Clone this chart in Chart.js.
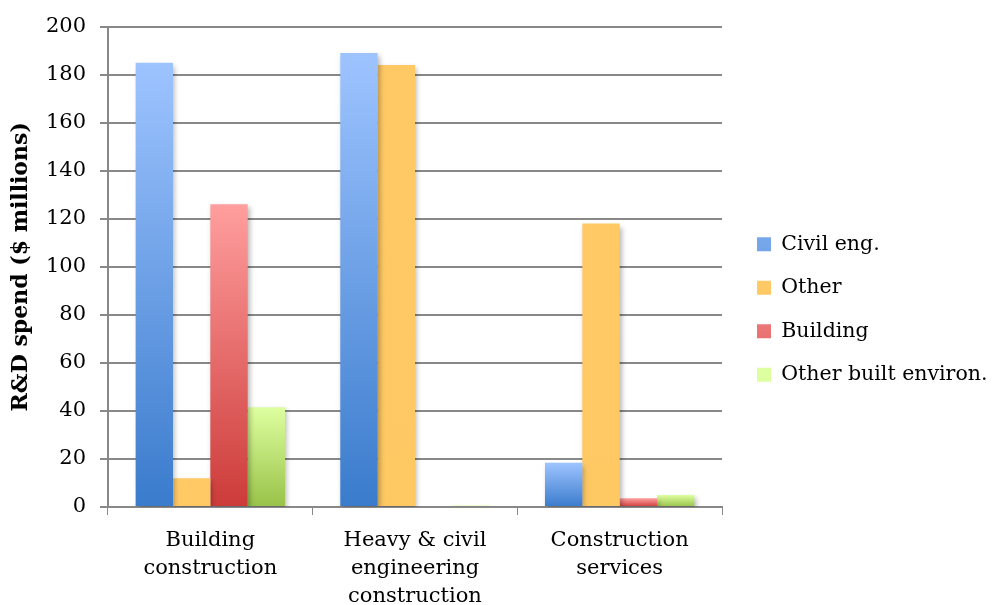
<!DOCTYPE html>
<html>
<head>
<meta charset="utf-8">
<script src="https://cdn.jsdelivr.net/npm/chart.js@4/dist/chart.umd.min.js"></script>
<style>
  html, body { margin: 0; padding: 0; background: #fff; }
  #wrap { width: 992px; height: 605px; }
</style>
</head>
<body>
<div id="wrap"><canvas id="myChart"></canvas></div>
<script>
const categories = [
  ["Building", "construction"],
  ["Heavy & civil", "engineering", "construction"],
  ["Construction", "services"],
];
const civilEng = [185, 189, 18.4];
const other = [12, 184, 118];
const building = [126, 0, 3.6];
const otherBuilt = [41.5, 0.6, 5];
const yTicks = [0, 20, 40, 60, 80, 100, 120, 140, 160, 180, 200];

const FONT = "'DejaVu Serif', serif";

// each bar gets its own light-top / dark-bottom gradient
function barFill(top, bottom, mid) {
  return (c) => {
    if (c.type !== "data") return mid;
    const chart = c.chart;
    const y = chart.scales.y;
    if (!y || !chart.chartArea) return mid;
    const y0 = y.getPixelForValue(c.parsed.y);
    const y1 = y.getPixelForValue(0);
    if (!isFinite(y0) || !isFinite(y1) || Math.abs(y1 - y0) < 1) return bottom;
    const g = chart.ctx.createLinearGradient(0, y0, 0, y1);
    g.addColorStop(0, top);
    g.addColorStop(1, bottom);
    return g;
  };
}

const shadowPlugin = {
  id: "barShadow",
  beforeDatasetsDraw(chart) {
    const c = chart.ctx;
    c.save();
    c.shadowColor = "rgba(0,0,0,0.28)";
    c.shadowBlur = 5;
    c.shadowOffsetX = 2;
    c.shadowOffsetY = 3;
  },
  afterDatasetsDraw(chart) {
    chart.ctx.restore();
  },
};

// fix legend width so the plot ends where the original does
const legendFit = {
  id: "legendFit",
  afterInit(chart) {
    const lg = chart.legend;
    const fit = lg.fit;
    lg.fit = function () {
      fit.call(this);
      this.width = 270;
    };
  },
  afterUpdate(chart) {
    chart.legend.left += 12;
  },
};

const myChart = new Chart(document.getElementById("myChart"), {
  type: "bar",
  data: {
    labels: categories,
    datasets: [
      { label: "Civil eng.", data: civilEng, backgroundColor: barFill("#9ec4ff", "#3a7bcc", "#6d9fe6") },
      { label: "Other", data: other, backgroundColor: barFill("#ffc966", "#fec863", "#ffc966") },
      { label: "Building", data: building, backgroundColor: barFill("#ff9e9e", "#cc3b39", "#e66c6b") },
      { label: "Other built environ.", data: otherBuilt, backgroundColor: barFill("#deffa0", "#98c248", "#bce074") },
    ],
  },
  plugins: [shadowPlugin, legendFit],
  options: {
    responsive: true,
    maintainAspectRatio: false,
    animation: false,
    datasets: {
      bar: { categoryPercentage: 0.73, barPercentage: 1, borderWidth: 0 },
    },
    layout: { padding: { top: 14, left: 0, right: 0, bottom: 0 } },
    plugins: {
      tooltip: { enabled: false },
      legend: {
        position: "right",
        align: "center",
        labels: {
          color: "#000",
          font: { family: FONT, size: 20.5 },
          boxWidth: 14,
          boxHeight: 14,
          padding: 23,
        },
      },
    },
    scales: {
      x: {
        grid: {
          offset: true,
          drawOnChartArea: false,
          drawTicks: true,
          tickLength: 8,
          color: "#888",
        },
        border: { color: "#888", width: 2 },
        ticks: {
          color: "#000",
          font: { family: FONT, size: 21, lineHeight: 1.35 },
          padding: 11,
          maxRotation: 0,
        },
        afterFit: (s) => { s.height = 98; },
      },
      y: {
        min: 0,
        max: 200,
        afterBuildTicks: (s) => { s.ticks = yTicks.map((v) => ({ value: v })); },
        grid: { color: "#888", lineWidth: 2, tickLength: 8 },
        border: { color: "#888", width: 2 },
        ticks: {
          color: "#000",
          font: { family: FONT, size: 21 },
          padding: 14,
        },
        title: {
          display: true,
          text: "R&D spend ($ millions)",
          color: "#000",
          font: { family: FONT, size: 22, weight: "bold" },
          padding: { top: 8, bottom: 2 },
        },
        afterFit: (s) => { s.width = 108; },
      },
    },
  },
});
</script>
</body>
</html>
